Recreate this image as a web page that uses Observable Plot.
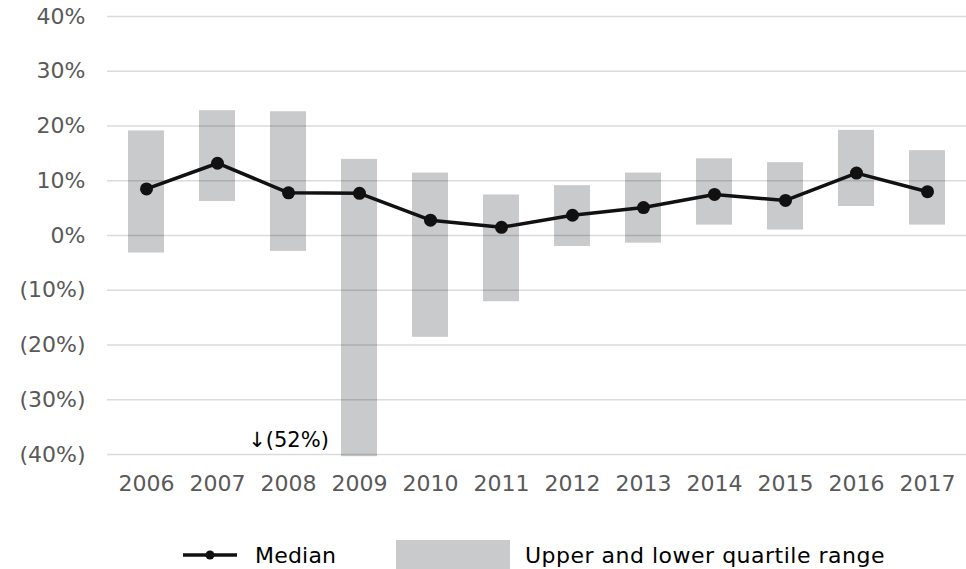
<!DOCTYPE html>
<html>
<head>
<meta charset="utf-8">
<script src="https://cdn.jsdelivr.net/npm/d3@7"></script>
<script src="https://cdn.jsdelivr.net/npm/@observablehq/plot@0.6"></script>
<style>
  html, body { margin: 0; padding: 0; background: #fff; }
  body { width: 966px; height: 569px; overflow: hidden; font-family: "DejaVu Sans", Verdana, sans-serif; }
  #legend { position: relative; width: 966px; height: 59px; }
  #legend .item { position: absolute; font-size: 22px; color: #000; line-height: 1; }
</style>
</head>
<body>
<div id="chart"></div>
<div id="legend">
  <svg style="position:absolute;left:183px;top:39px" width="54" height="12">
    <line x1="0" x2="54" y1="6" y2="6" stroke="#111" stroke-width="3.5"></line>
    <circle cx="27" cy="6" r="4.5" fill="#111"></circle>
  </svg>
  <div class="item" style="left:255px;top:35px;letter-spacing:0.2px">Median</div>
  <div style="position:absolute;left:396px;top:30px;width:114px;height:29px;background:#c9cacc"></div>
  <div class="item" style="left:525px;top:35px;letter-spacing:0.5px">Upper and lower quartile range</div>
</div>
<script>
const years = ["2006","2007","2008","2009","2010","2011","2012","2013","2014","2015","2016","2017"];
const median = [8.5, 13.2, 7.8, 7.7, 2.8, 1.5, 3.7, 5.1, 7.5, 6.4, 11.4, 8.0];
const upper  = [19.1, 22.8, 22.6, 13.9, 11.4, 7.4, 9.1, 11.4, 14.0, 13.3, 19.2, 15.5];
const lower  = [-3.2, 6.2, -2.9, -52, -18.6, -12.1, -2.0, -1.4, 1.9, 1.0, 5.3, 1.9];
const yTicks = [-40, -30, -20, -10, 0, 10, 20, 30, 40];
const axisFloor = -40.4; // bars below the axis are cut off here
const note = {year: "2008", y: -37.4, label: "\u2193(52%)"};

const data = years.map((year, i) => ({year, median: median[i], upper: upper[i], lower: lower[i]}));
const fmt = v => v < 0 ? `(${Math.abs(v)}%)` : `${v}%`;

const chart = Plot.plot({
  width: 966,
  height: 510,
  marginTop: 16,
  marginBottom: 56,
  marginLeft: 107,
  marginRight: 0,
  style: {fontFamily: "DejaVu Sans, Verdana, sans-serif", fontSize: "22px", background: "#fff"},
  x: {domain: years, paddingInner: 0.5, paddingOuter: 0.25, label: null},
  y: {domain: [-40, 40], label: null},
  marks: [
    Plot.rectY(data, {x: "year", y1: d => Math.max(d.lower, axisFloor), y2: "upper", fill: "#c9cacc"}),
    Plot.ruleY(yTicks, {stroke: "#000", strokeOpacity: 0.14, strokeWidth: 1.5}),
    Plot.axisY(yTicks, {tickSize: 0, tickPadding: 22, tickFormat: fmt, fill: "#595959", fontSize: 22, style: {letterSpacing: "1.8px"}}),
    Plot.axisX(years, {tickSize: 0, tickPadding: 21, fill: "#595959", fontSize: 22, style: {letterSpacing: "0.7px"}}),
    Plot.line(data, {x: "year", y: "median", stroke: "#111", strokeWidth: 3.5}),
    Plot.dot(data, {x: "year", y: "median", r: 6.5, fill: "#111"}),
    Plot.text([note], {x: "year", y: "y", text: "label", fill: "#000", fontSize: 21})
  ]
});
document.getElementById("chart").appendChild(chart);
</script>
</body>
</html>
